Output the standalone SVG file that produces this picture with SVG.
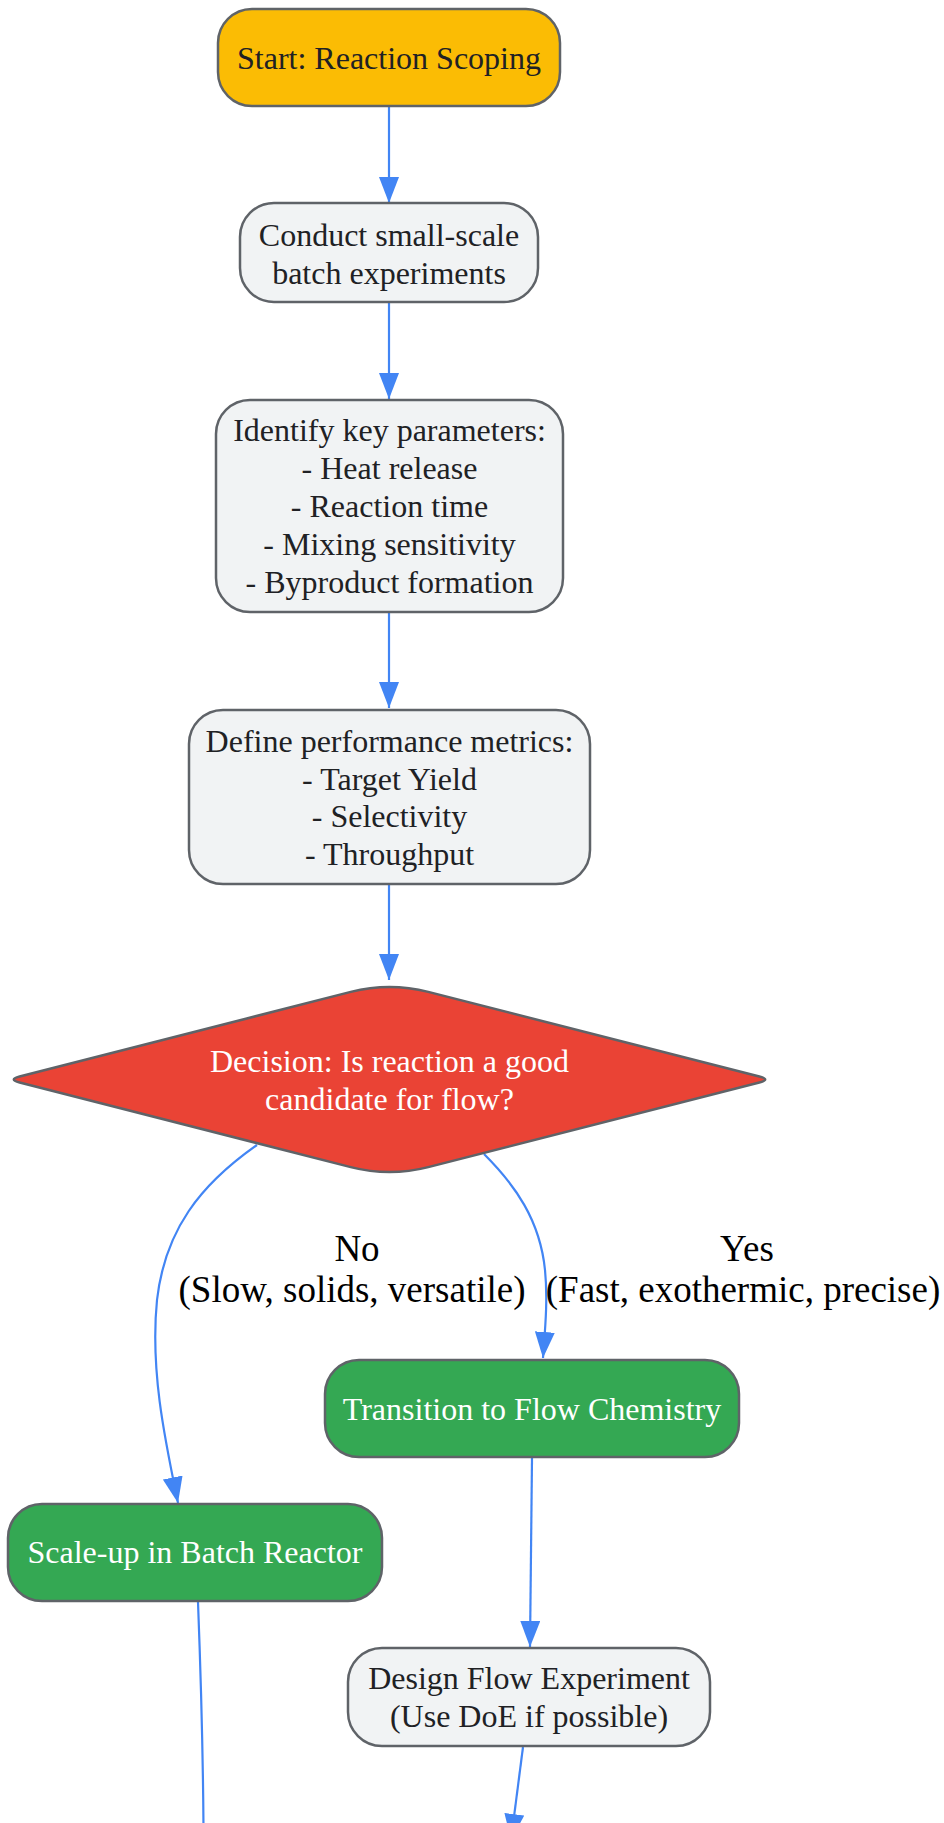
<svg xmlns="http://www.w3.org/2000/svg" width="944" height="1823" viewBox="0 0 944 1823">
<style>
.nd{stroke:#5f6368;stroke-width:2.5}
.lt{fill:#f1f3f4}
.st{fill:#fbbc04}
.gr{fill:#34a853}
.rd{fill:#ea4335}
.t{font-family:"Liberation Serif","Times New Roman",serif;font-size:32px;text-anchor:middle;fill:#202124}
.w{fill:#ffffff}
.el{font-family:"Liberation Serif","Times New Roman",serif;font-size:37px;text-anchor:middle;fill:#000000}
.e{fill:none;stroke:#4285f4;stroke-width:2.2}
</style>
<defs>
<marker id="ah" markerUnits="userSpaceOnUse" viewBox="0 0 26 20" refX="26" refY="10" markerWidth="26" markerHeight="20" orient="auto">
<path d="M0,0 L26,10 L0,20 z" fill="#4285f4"/>
</marker>
</defs>
<rect width="944" height="1823" fill="#ffffff"/>
<g id="connectors">
<path class="e" d="M389,106 L389,203" marker-end="url(#ah)"/>
<path class="e" d="M389,302 L389,399" marker-end="url(#ah)"/>
<path class="e" d="M389,612 L389,708" marker-end="url(#ah)"/>
<path class="e" d="M389,884 L389,980" marker-end="url(#ah)"/>
<path class="e" d="M257,1145 C200,1185 165,1230 157,1300 C150,1370 165,1440 178,1503" marker-end="url(#ah)"/>
<path class="e" d="M484,1154 C515,1185 540,1220 545,1270 C548,1300 545,1330 543,1358" marker-end="url(#ah)"/>
<path class="e" d="M532,1458 L530,1647" marker-end="url(#ah)"/>
<path class="e" d="M198,1602 C201,1680 203,1750 203.5,1830"/>
<path class="e" d="M523,1747 L511,1840" marker-end="url(#ah)"/>
<text class="el" x="357" y="1261">No</text>
<text class="el" x="352" y="1302">(Slow, solids, versatile)</text>
<text class="el" x="747" y="1261">Yes</text>
<text class="el" x="743" y="1302">(Fast, exothermic, precise)</text>
</g>
<g id="start">
<rect class="nd st" x="218" y="9" width="342" height="97" rx="34"/>
<text class="t" x="389" y="69">Start: Reaction Scoping</text>
</g>
<g id="conduct">
<rect class="nd lt" x="240" y="203" width="298" height="99" rx="34"/>
<text class="t" x="389" y="246">Conduct small-scale</text>
<text class="t" x="389" y="283.5">batch experiments</text>
</g>
<g id="identify">
<rect class="nd lt" x="216" y="400" width="347" height="212" rx="34"/>
<text class="t" x="389.5" y="441">Identify key parameters:</text>
<text class="t" x="389.5" y="479">- Heat release</text>
<text class="t" x="389.5" y="517">- Reaction time</text>
<text class="t" x="389.5" y="555">- Mixing sensitivity</text>
<text class="t" x="389.5" y="593">- Byproduct formation</text>
</g>
<g id="define">
<rect class="nd lt" x="189" y="710" width="401" height="174" rx="34"/>
<text class="t" x="389.5" y="752">Define performance metrics:</text>
<text class="t" x="389.5" y="789.5">- Target Yield</text>
<text class="t" x="389.5" y="827">- Selectivity</text>
<text class="t" x="389.5" y="865">- Throughput</text>
</g>
<g id="decision">
<path class="nd rd" d="M350.75,991.9 Q389.5,982 428.25,991.9 L759.37,1076.53 Q771,1079.5 759.37,1082.47 L428.25,1167.1 Q389.5,1177 350.75,1167.1 L19.63,1082.47 Q8,1079.5 19.63,1076.53 Z"/>
<text class="t w" x="389.5" y="1072">Decision: Is reaction a good</text>
<text class="t w" x="389.5" y="1110">candidate for flow?</text>
</g>
<g id="flow">
<rect class="nd gr" x="325" y="1360" width="414" height="97" rx="34"/>
<text class="t w" x="532" y="1420">Transition to Flow Chemistry</text>
</g>
<g id="batch">
<rect class="nd gr" x="8" y="1504" width="374" height="97" rx="34"/>
<text class="t w" x="195" y="1563">Scale-up in Batch Reactor</text>
</g>
<g id="design">
<rect class="nd lt" x="348" y="1648" width="362" height="98" rx="34"/>
<text class="t" x="529" y="1688.5">Design Flow Experiment</text>
<text class="t" x="529" y="1726.5">(Use DoE if possible)</text>
</g>
</svg>
